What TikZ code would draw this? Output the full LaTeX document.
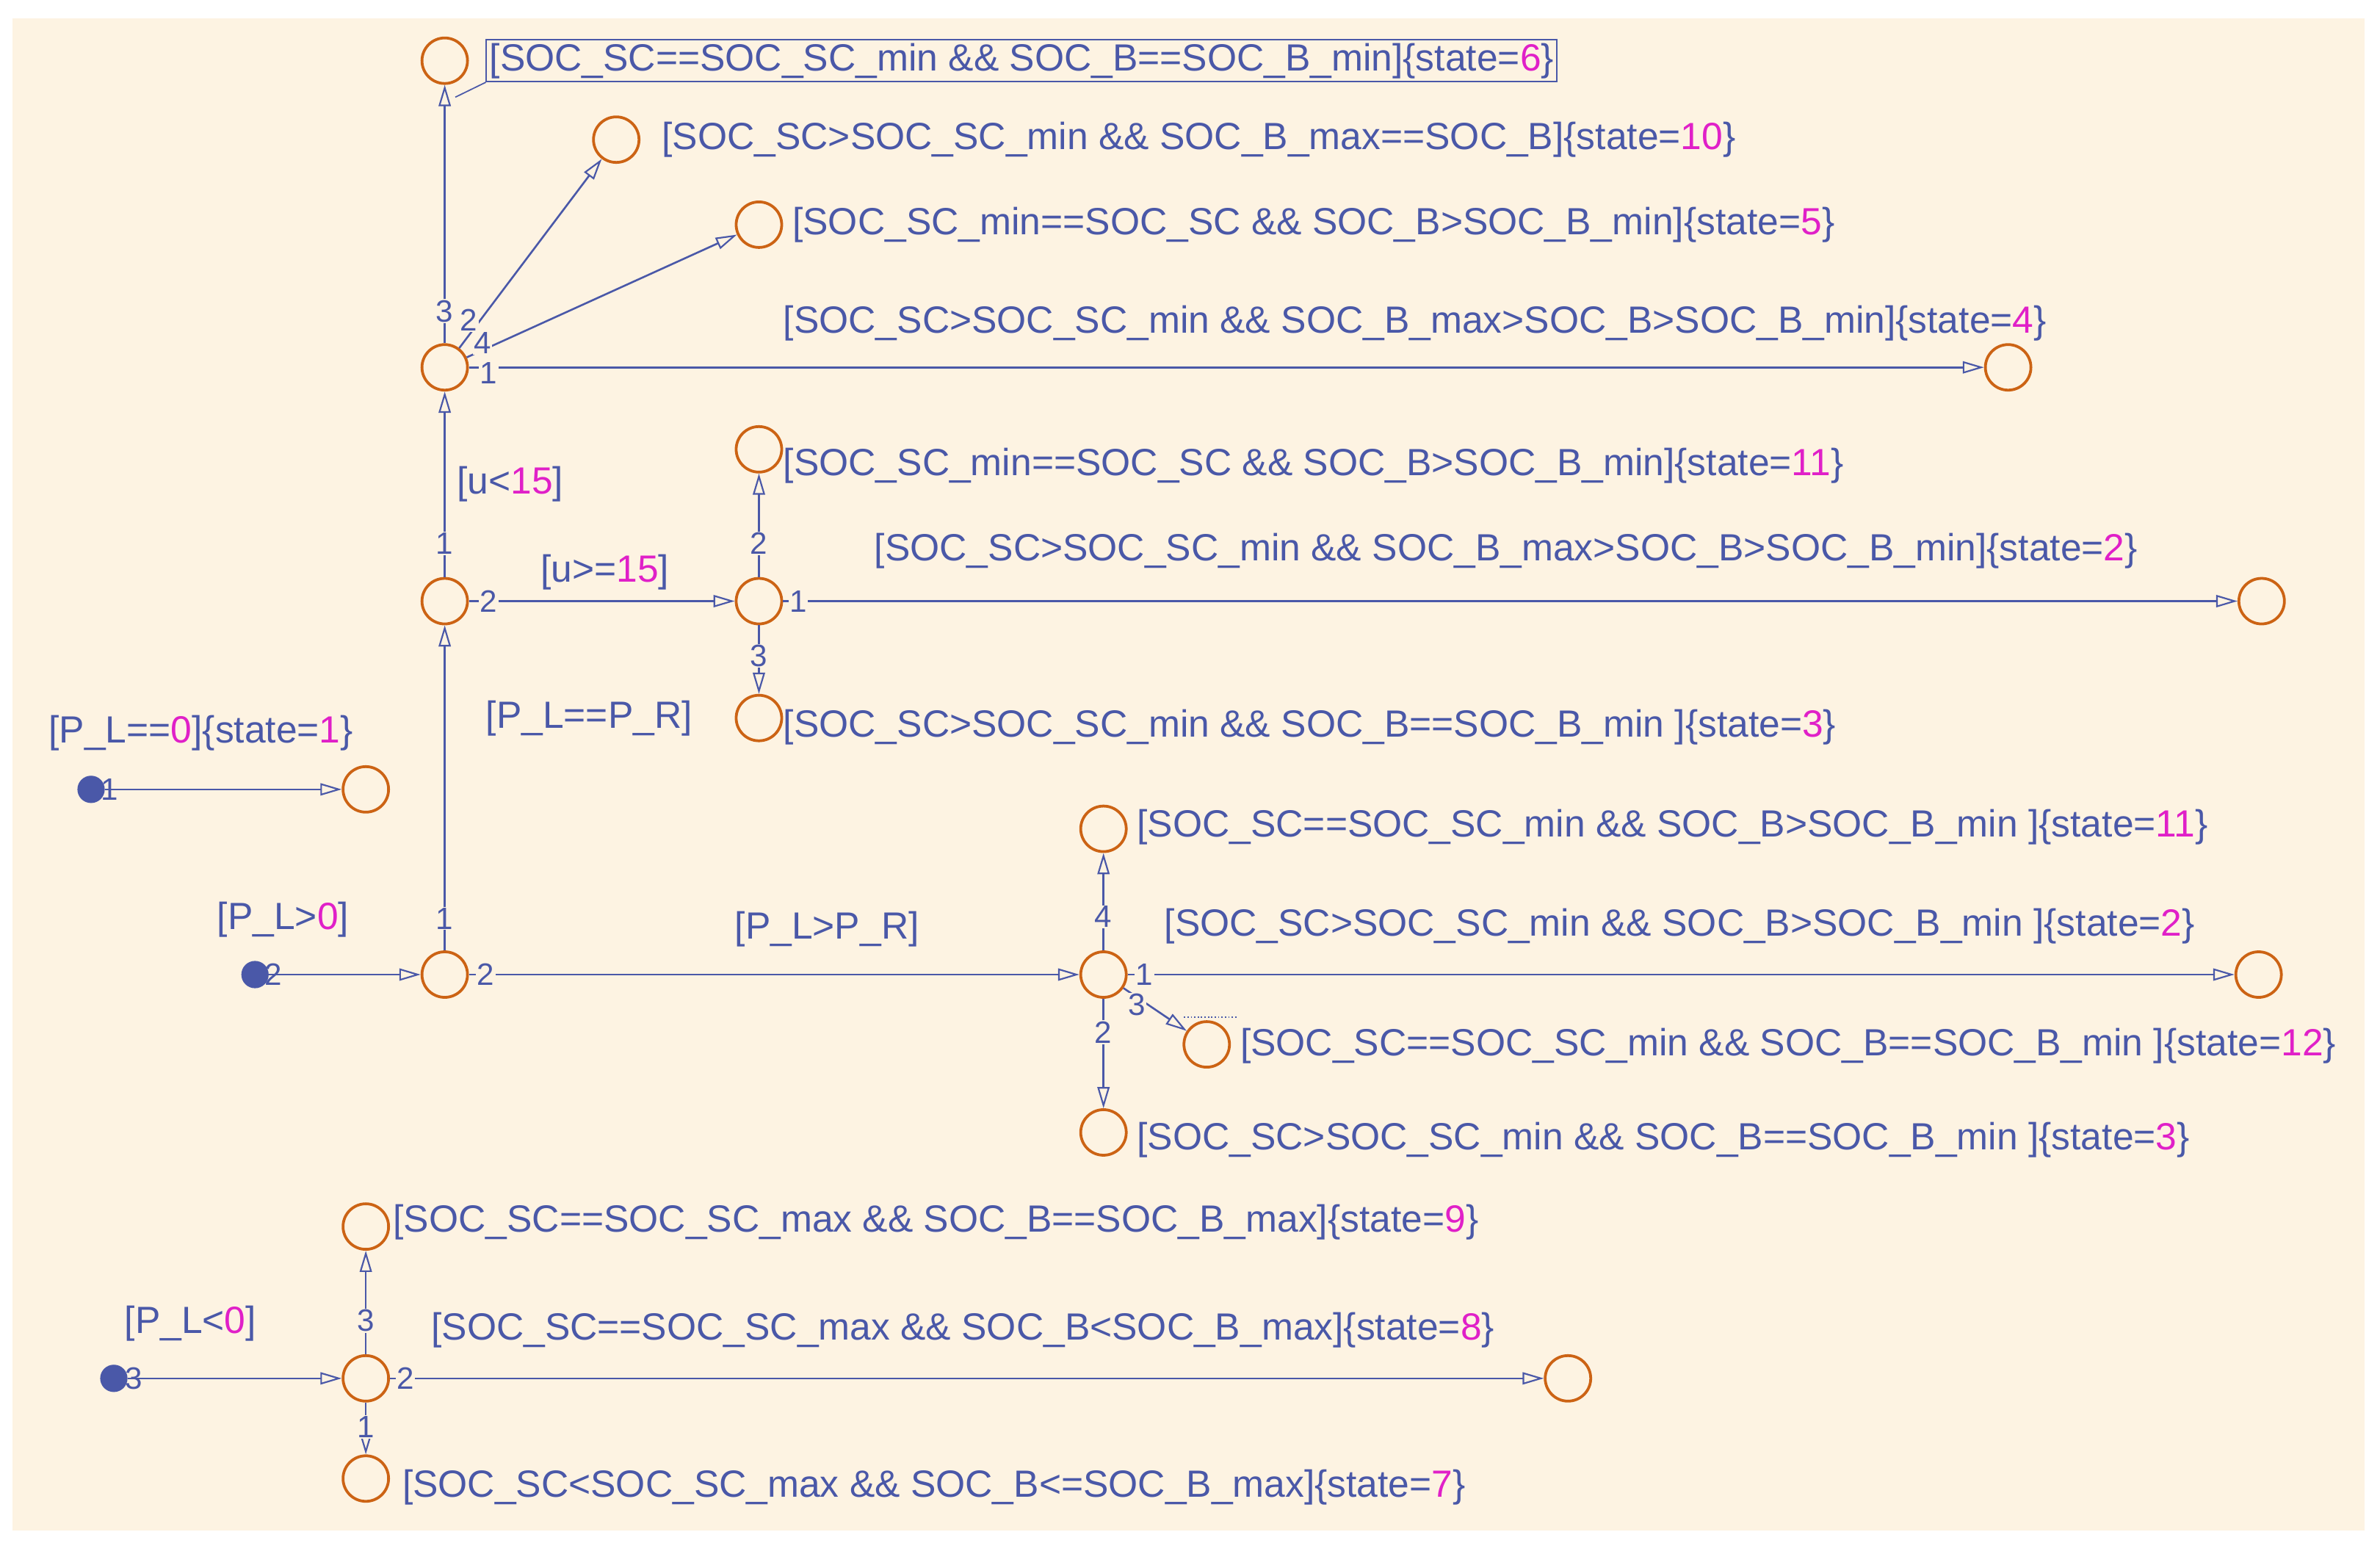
\documentclass[tikz,border=0pt]{standalone}
\usepackage{fontspec}
\setmainfont{Liberation Sans}
\usetikzlibrary{arrows.meta}
\definecolor{bg}{HTML}{FDF3E2}
\definecolor{bl}{HTML}{4A58A8}
\definecolor{org}{HTML}{CC6314}
\definecolor{mag}{HTML}{E020C8}
\newcommand{\mg}[1]{\textcolor{mag}{#1}}
\begin{document}
\begin{tikzpicture}[x=0.05cm,y=-0.05cm,
  st/.style={circle,draw=org,line width=2.6pt,minimum size=1.5cm,inner sep=0pt},
  dot/.style={circle,fill=bl,minimum size=0.9cm,inner sep=0pt},
  tr/.style={draw=bl,line width=1.8pt,-{Triangle[open,length=0.7cm,width=0.4cm,line width=1.5pt]}},
  lab/.style={anchor=west,text=bl,font=\fontsize{35.5}{40}\selectfont,inner sep=0pt},
  num/.style={text=bl,font=\fontsize{29}{33}\selectfont,fill=bg,inner sep=1pt},
  dnum/.style={text=bl,font=\fontsize{29}{33}\selectfont,inner sep=1pt}]
\useasboundingbox (0,0) rectangle (1568,1016);
\fill[white] (0,0) rectangle (1568,1016);
\fill[bg] (8,12) rectangle (1558,1008);
% states / junctions
\node[st] (A6) at (293,40) {};
\node[st] (S10) at (406,92) {};
\node[st] (S5) at (500,148) {};
\node[st] (J4) at (293,242) {};
\node[st] (S4) at (1323,242) {};
\node[st] (S11a) at (500,296) {};
\node[st] (J2) at (293,396) {};
\node[st] (J3) at (500,396) {};
\node[st] (S2a) at (1490,396) {};
\node[st] (S3a) at (500,473) {};
\node[dot] (D1) at (60,520) {};
\node[st] (S1) at (241,520) {};
\node[st] (S11b) at (727,546) {};
\node[dot] (D2) at (168,642) {};
\node[st] (J1) at (293,642) {};
\node[st] (J5) at (727,642) {};
\node[st] (S2b) at (1488,642) {};
\node[st] (S12) at (795,688) {};
\node[st] (S3b) at (727,746) {};
\node[st] (S9) at (241,808) {};
\node[dot] (D3) at (75,908) {};
\node[st] (J6) at (241,908) {};
\node[st] (S8) at (1033,908) {};
\node[st] (S7) at (241,974) {};
% transitions
\draw[tr] (J4) -- (A6);
\draw[tr] (J4) -- (S10);
\draw[tr] (J4) -- (S5);
\draw[tr] (J4) -- (S4);
\draw[tr] (J2) -- (J4);
\draw[tr] (J2) -- (J3);
\draw[tr] (J3) -- (S11a);
\draw[tr] (J3) -- (S2a);
\draw[tr] (J3) -- (S3a);
\draw[tr] (D1) -- (S1);
\draw[tr] (D2) -- (J1);
\draw[tr] (J1) -- (J2);
\draw[tr] (J1) -- (J5);
\draw[tr] (J5) -- (S11b);
\draw[tr] (J5) -- (S2b);
\draw[tr] (J5) -- (S12);
\draw[tr] (J5) -- (S3b);
\draw[tr] (D3) -- (J6);
\draw[tr] (J6) -- (S9);
\draw[tr] (J6) -- (S8);
\draw[tr] (J6) -- (S7);
\draw[bl,line width=1.2pt,dotted] (780,670) -- (815,670);
% transition numbers
\node[num] (n43) at (293,205) {3};
\node[num] (n42) at (309,211) {2};
\node[num] (n44) at (318,226) {4};
\node[num] (n41) at (322,246) {1};
\node[num] (n21) at (293,358) {1};
\node[num] (n22) at (322,396) {2};
\node[num] (n32) at (500,358) {2};
\node[num] (n31) at (526,396) {1};
\node[num] (n33) at (500,432) {3};
\node[num] (n11) at (293,605) {1};
\node[num] (n12) at (320,642) {2};
\node[num] (n54) at (727,604) {4};
\node[num] (n51) at (754,642) {1};
\node[num] (n53) at (749,662) {3};
\node[num] (n52) at (727,680) {2};
\node[num] (n63) at (241,870) {3};
\node[num] (n62) at (267,908) {2};
\node[num] (n61) at (241,940) {1};
\node[dnum] (d1n) at (72,520) {1};
\node[dnum] (d2n) at (180,642) {2};
\node[dnum] (d3n) at (88,908) {3};
% labels
\node[lab,draw=bl,line width=1.4pt,inner sep=3pt] (L6) at (320,40) {[SOC\_SC==SOC\_SC\_min \&\& SOC\_B==SOC\_B\_min]\{state=\mg{6}\}};
\draw[bl,line width=1.2pt] (L6.south west) -- (300,64);
\node[lab] at (436,92) {[SOC\_SC>SOC\_SC\_min \&\& SOC\_B\_max==SOC\_B]\{state=\mg{10}\}};
\node[lab] at (522,148) {[SOC\_SC\_min==SOC\_SC \&\& SOC\_B>SOC\_B\_min]\{state=\mg{5}\}};
\node[lab] at (516,213) {[SOC\_SC>SOC\_SC\_min \&\& SOC\_B\_max>SOC\_B>SOC\_B\_min]\{state=\mg{4}\}};
\node[lab] at (516,307) {[SOC\_SC\_min==SOC\_SC \&\& SOC\_B>SOC\_B\_min]\{state=\mg{11}\}};
\node[lab] at (576,363) {[SOC\_SC>SOC\_SC\_min \&\& SOC\_B\_max>SOC\_B>SOC\_B\_min]\{state=\mg{2}\}};
\node[lab] at (516,479) {[SOC\_SC>SOC\_SC\_min \&\& SOC\_B==SOC\_B\_min ]\{state=\mg{3}\}};
\node[lab] at (749,545) {[SOC\_SC==SOC\_SC\_min \&\& SOC\_B>SOC\_B\_min ]\{state=\mg{11}\}};
\node[lab] at (767,610) {[SOC\_SC>SOC\_SC\_min \&\& SOC\_B>SOC\_B\_min ]\{state=\mg{2}\}};
\node[lab] at (817,689) {[SOC\_SC==SOC\_SC\_min \&\& SOC\_B==SOC\_B\_min ]\{state=\mg{12}\}};
\node[lab] at (749,751) {[SOC\_SC>SOC\_SC\_min \&\& SOC\_B==SOC\_B\_min ]\{state=\mg{3}\}};
\node[lab] at (259,805) {[SOC\_SC==SOC\_SC\_max \&\& SOC\_B==SOC\_B\_max]\{state=\mg{9}\}};
\node[lab] at (284,876) {[SOC\_SC==SOC\_SC\_max \&\& SOC\_B<SOC\_B\_max]\{state=\mg{8}\}};
\node[lab] at (265,980) {[SOC\_SC<SOC\_SC\_max \&\& SOC\_B<=SOC\_B\_max]\{state=\mg{7}\}};
\node[lab] at (320,473) {[P\_L==P\_R]};
\node[lab] at (484,612) {[P\_L>P\_R]};
\node[lab] at (301,319) {[u<\mg{15}]};
\node[lab] at (356,377) {[u>=\mg{15}]};
\node[lab] at (32,483) {[P\_L==\mg{0}]\{state=\mg{1}\}};
\node[lab] at (143,606) {[P\_L>\mg{0}]};
\node[lab] at (82,872) {[P\_L<\mg{0}]};
\end{tikzpicture}
\end{document}
